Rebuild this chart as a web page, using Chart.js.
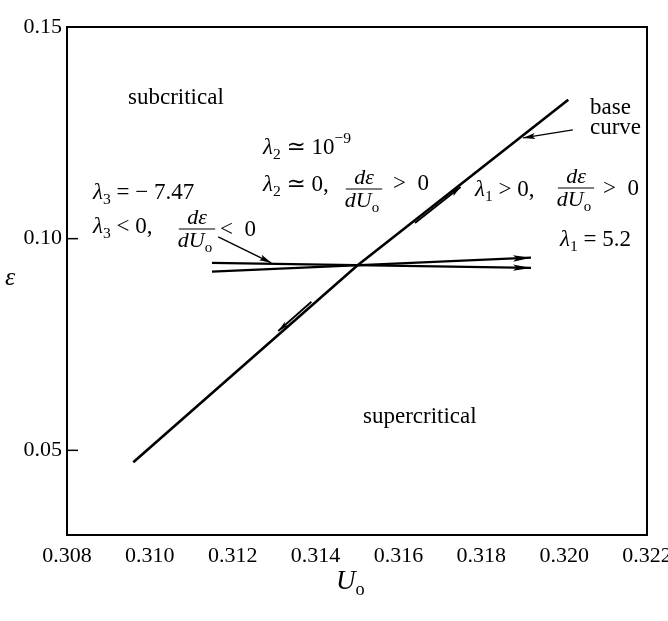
<!DOCTYPE html>
<html>
<head>
<meta charset="UTF-8">
<title>Base curve</title>
<script src="https://cdn.jsdelivr.net/npm/chart.js"></script>
<style>
    html, body { margin: 0; padding: 0; background: #fff; }
    #wrap { width: 668px; height: 621px; }
</style>
</head>
<body>
<div id="wrap"><canvas id="c" width="668" height="621"></canvas></div>
<script>
// --- data ---
const xTicks = [0.308, 0.310, 0.312, 0.314, 0.316, 0.318, 0.320, 0.322];
const yTicks = [0.05, 0.10, 0.15];

const baseU   = [0.3096, 0.3150, 0.3201];
const baseEps = [0.0472, 0.0936, 0.1328];

// perturbation directions through the crossing point
const lam3U   = [0.3115, 0.3192];
const lam3Eps = [0.0943, 0.0931];
const lam1U   = [0.3115, 0.3192];
const lam1Eps = [0.0922, 0.0955];
const lam2UpU   = [0.3164, 0.3175];
const lam2UpEps = [0.1037, 0.1122];
const lam2DnU   = [0.3139, 0.3131];
const lam2DnEps = [0.0851, 0.0782];

// pointer arrows of the notes
const baseNoteU   = [0.32021, 0.31901];
const baseNoteEps = [0.1257, 0.1238];
const negNoteU    = [0.31165, 0.31293];
const negNoteEps  = [0.1004, 0.0943];

const FONT = '"Liberation Serif", "DejaVu Serif", serif';
const pts = (xs, ys) => xs.map((x, i) => ({ x: x, y: ys[i] }));

function line(xs, ys, w, arrow) {
    return { data: pts(xs, ys), showLine: true, borderColor: '#000', borderWidth: w,
             pointRadius: 0, fill: false, arrow: arrow };
}

// rich text: runs of {t, i, sub, sup}
function runsWidth(ctx, runs, size) {
    let w = 0;
    runs.forEach(r => {
        const s = (r.sub || r.sup) ? size * 0.68 : size;
        ctx.font = (r.i ? 'italic ' : '') + s + 'px ' + FONT;
        w += ctx.measureText(r.t).width;
    });
    return w;
}
function rich(ctx, x, y, runs, size) {
    let cx = x;
    runs.forEach(r => {
        const s = (r.sub || r.sup) ? size * 0.68 : size;
        ctx.font = (r.i ? 'italic ' : '') + s + 'px ' + FONT;
        const dy = r.sub ? size * 0.32 : r.sup ? -size * 0.38 : 0;
        ctx.fillText(r.t, cx, y + dy);
        cx += ctx.measureText(r.t).width;
    });
}
function frac(ctx, cx, yBar, size) {
    const num = [{ t: 'd', i: true }, { t: 'ε', i: true }];
    const den = [{ t: 'dU', i: true }, { t: 'o', sub: true }];
    const wn = runsWidth(ctx, num, size), wd = runsWidth(ctx, den, size);
    const w = Math.max(wn, wd) + 2;
    rich(ctx, cx - wn / 2, yBar - size * 0.5, num, size);
    rich(ctx, cx - wd / 2 - 2, yBar + size * 0.55, den, size);
    ctx.lineWidth = 1.2;
    ctx.beginPath();
    ctx.moveTo(cx - w / 2, yBar);
    ctx.lineTo(cx + w / 2, yBar);
    ctx.stroke();
}

const L = { t: 'λ', i: true };
const sub = s => ({ t: s, sub: true });
const notes = [
    { x: 128, y: 98,  runs: [{ t: 'subcritical' }] },
    { x: 590, y: 108, runs: [{ t: 'base' }] },
    { x: 590, y: 128, runs: [{ t: 'curve' }] },
    { x: 263, y: 148, runs: [L, sub('2'), { t: ' ≃ 10' }, { t: '−9', sup: true }] },
    { x: 263, y: 185, runs: [L, sub('2'), { t: ' ≃ 0,' }] },
    { x: 393, y: 184, runs: [{ t: '>  0' }] },
    { x: 93,  y: 193, runs: [L, sub('3'), { t: ' = − 7.47' }] },
    { x: 93,  y: 227, runs: [L, sub('3'), { t: ' < 0,' }] },
    { x: 220, y: 230, runs: [{ t: '<  0' }] },
    { x: 475, y: 190, runs: [L, sub('1'), { t: ' > 0,' }] },
    { x: 603, y: 189, runs: [{ t: '>  0' }] },
    { x: 560, y: 240, runs: [L, sub('1'), { t: ' = 5.2' }] },
    { x: 363, y: 417, runs: [{ t: 'supercritical' }] }
];
const fracs = [[364, 189], [197, 229], [576, 188]];

const decor = {
    id: 'decor',
    afterDatasetsDraw(chart) {
        const ctx = chart.ctx, a = chart.chartArea;
        const ys = chart.scales.y;
        ctx.save();
        ctx.strokeStyle = '#000';
        ctx.fillStyle = '#000';
        // arrow heads at the end of flagged lines
        chart.data.datasets.forEach((ds, i) => {
            if (!ds.arrow) return;
            const d = chart.getDatasetMeta(i).data;
            const p1 = d[d.length - 2], p2 = d[d.length - 1];
            const ang = Math.atan2(p2.y - p1.y, p2.x - p1.x);
            const len = ds.arrow.len, hw = ds.arrow.hw;
            ctx.save();
            ctx.translate(p2.x, p2.y);
            ctx.rotate(ang);
            ctx.beginPath();
            ctx.moveTo(0, 0);
            ctx.lineTo(-len, -hw);
            ctx.lineTo(-len * 0.8, 0);
            ctx.lineTo(-len, hw);
            ctx.closePath();
            ctx.fill();
            ctx.restore();
        });
        // frame and inward ticks
        ctx.lineWidth = 2;
        ctx.strokeRect(a.left, a.top, a.right - a.left, a.bottom - a.top);
        ctx.lineWidth = 1.5;
        [0.05, 0.10].forEach(v => {
            const py = ys.getPixelForValue(v);
            ctx.beginPath();
            ctx.moveTo(a.left, py);
            ctx.lineTo(a.left + 11, py);
            ctx.stroke();
        });
        // notes
        ctx.textBaseline = 'middle';
        ctx.textAlign = 'left';
        notes.forEach(n => rich(ctx, n.x, n.y, n.runs, 23));
        fracs.forEach(f => frac(ctx, f[0], f[1], 22));
        // axis titles
        rich(ctx, 5, 278, [{ t: 'ε', i: true }], 26);
        rich(ctx, 336, 582, [{ t: 'U', i: true }, { t: 'o', sub: true }], 27);
        ctx.restore();
    }
};

new Chart(document.getElementById('c'), {
    type: 'scatter',
    data: {
        datasets: [
            line(baseU, baseEps, 2.6, null),
            line(lam3U, lam3Eps, 2.2, { len: 18, hw: 3.2 }),
            line(lam1U, lam1Eps, 2.2, { len: 18, hw: 3.2 }),
            line(lam2UpU, lam2UpEps, 1.8, { len: 11, hw: 2.6 }),
            line(lam2DnU, lam2DnEps, 1.8, { len: 11, hw: 2.6 }),
            line(baseNoteU, baseNoteEps, 1.4, { len: 12, hw: 3 }),
            line(negNoteU, negNoteEps, 1.4, { len: 12, hw: 3 })
        ]
    },
    options: {
        responsive: false,
        animation: false,
        layout: { padding: { top: 27, right: 21, left: 0, bottom: 0 } },
        plugins: { legend: { display: false }, tooltip: { enabled: false } },
        scales: {
            x: {
                type: 'linear', min: 0.308, max: 0.322,
                afterBuildTicks: s => { s.ticks = xTicks.map(v => ({ value: v })); },
                afterFit: s => { s.height = 86; s.paddingLeft = 0; s.paddingRight = 0; },
                ticks: { callback: v => v.toFixed(3), color: '#000', padding: 8,
                         maxRotation: 0, autoSkip: false, font: { family: FONT, size: 22 } },
                grid: { display: false, drawTicks: false },
                border: { display: false }
            },
            y: {
                type: 'linear', min: 0.03, max: 0.15,
                afterBuildTicks: s => { s.ticks = yTicks.map(v => ({ value: v })); },
                afterFit: s => { s.width = 67; s.paddingTop = 0; s.paddingBottom = 0; },
                ticks: { callback: v => v.toFixed(2), color: '#000', padding: 5,
                         font: { family: FONT, size: 22 } },
                grid: { display: false, drawTicks: false },
                border: { display: false }
            }
        }
    },
    plugins: [decor]
});
</script>
</body>
</html>
